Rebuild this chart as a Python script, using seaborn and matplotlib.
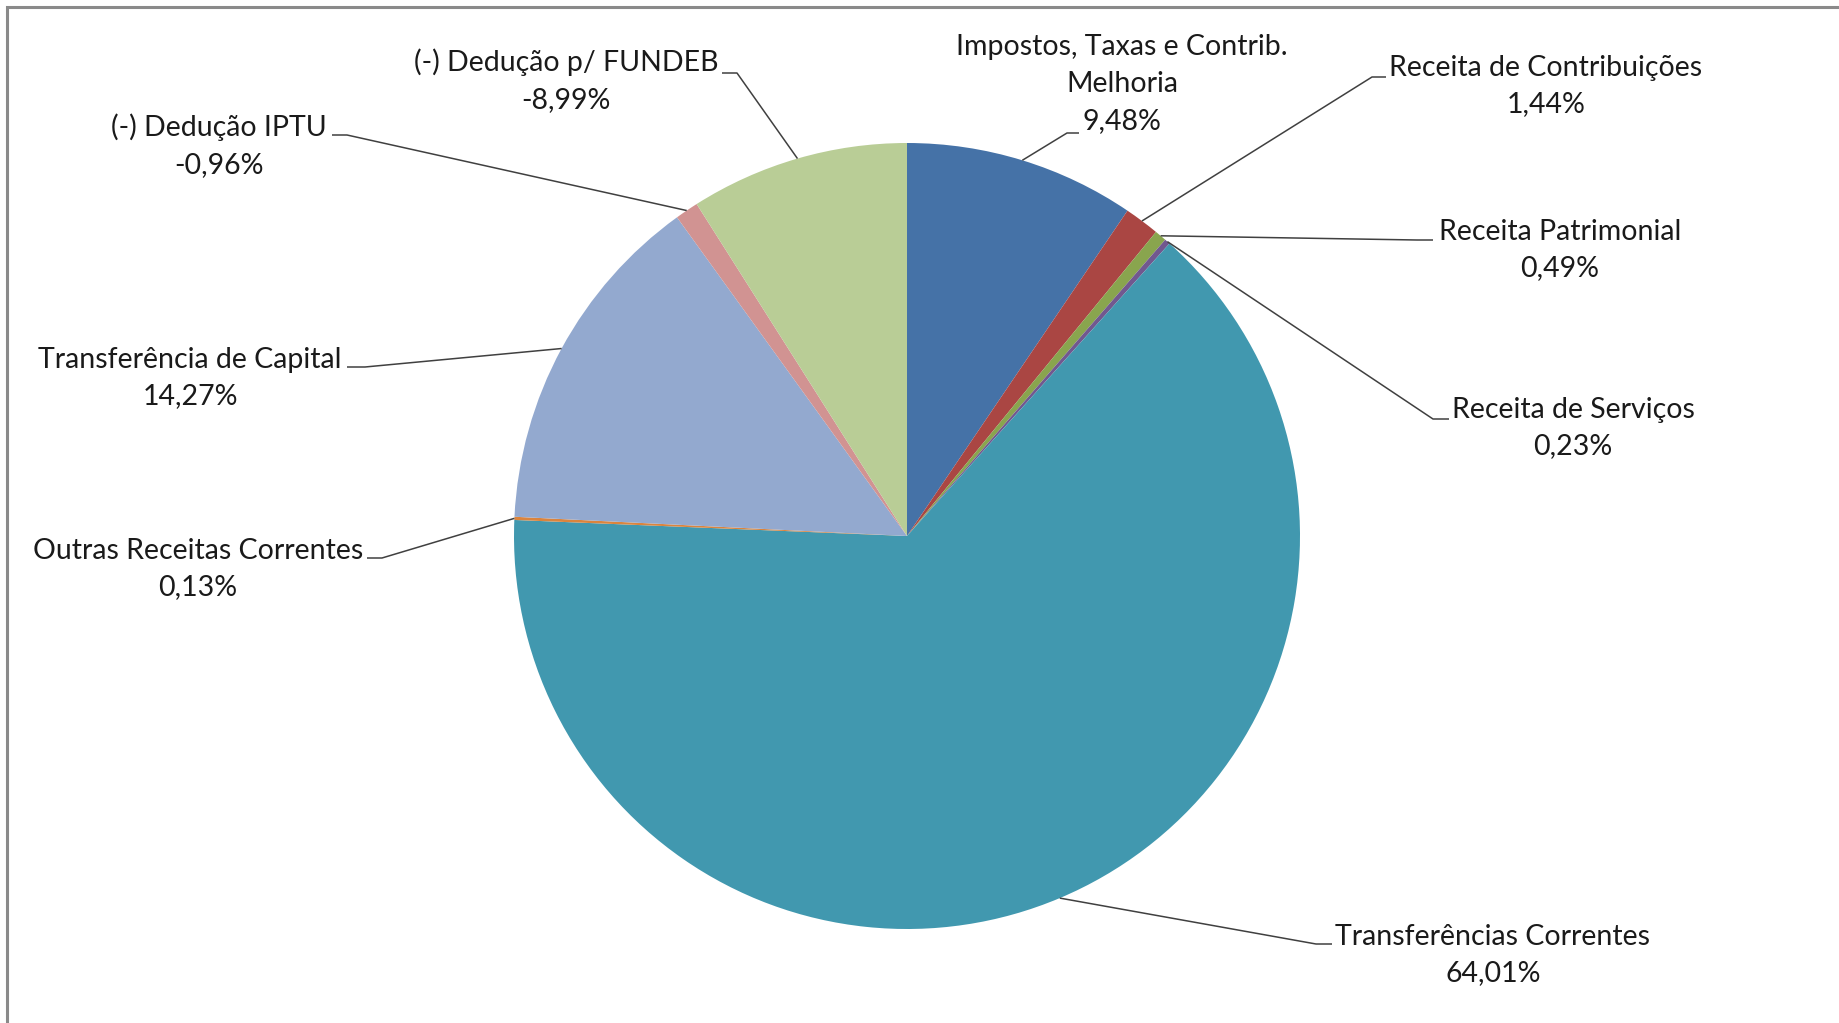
#!/usr/bin/env python3
"""Pie chart: composicao da receita (percentual por origem)."""

import numpy as np
import matplotlib
matplotlib.use("Agg")
import matplotlib.pyplot as plt
import seaborn as sns

# --- data ---
categories = [
    "Impostos, Taxas e Contrib.\nMelhoria",
    "Receita de Contribuições",
    "Receita Patrimonial",
    "Receita de Serviços",
    "Transferências Correntes",
    "Outras Receitas Correntes",
    "Transferência de Capital",
    "(-) Dedução IPTU",
    "(-) Dedução p/ FUNDEB",
]
values = [9.48, 1.44, 0.49, 0.23, 64.01, 0.13, 14.27, -0.96, -8.99]
slice_colors = ["#4572A7", "#AA4643", "#89A54E", "#71588F", "#4198AF",
                "#DB843D", "#93A9CF", "#D19392", "#B9CD96"]

# label layout in pixels from top-left: (text center x, text middle y,
# stub end near wedge x, stub end near text x, stub y)
label_layout = [
    (1122, 84, 1067, 1079, 133),
    (1546, 86, 1372, 1386, 77),
    (1560, 250, 1417, 1433, 240),
    (1573, 428, 1433, 1449, 419),
    (1493, 955, 1316, 1332, 944),
    (198, 569, 382, 367, 558),
    (190, 378, 365, 347, 367),
    (219, 146, 347, 332, 135),
    (566, 81, 737, 722, 73),
]

W, H = 1839, 1023
CX, CY, R = 907, 536, 393


def fmt_pct(v):
    return f"{v:.2f}".replace(".", ",") + "%"


def main():
    sns.set_theme(style="white")
    plt.rcParams["font.family"] = ["Lato", "DejaVu Sans"]
    text_color = "#1a1a1a"

    fig = plt.figure(figsize=(W / 100, H / 100), dpi=100)
    ax = fig.add_axes([0, 0, 1, 1])

    palette = sns.color_palette(slice_colors)
    wedges, _ = ax.pie(np.abs(values), colors=palette, startangle=90,
                       counterclock=False, center=(CX, H - CY), radius=R,
                       wedgeprops=dict(linewidth=0))

    ax.set_xlim(0, W)
    ax.set_ylim(0, H)
    ax.set_aspect("equal")
    ax.axis("off")

    for w, cat, v, lay in zip(wedges, categories, values, label_layout):
        tx, ty, sx0, sx1, sy = lay
        ang = np.deg2rad((w.theta1 + w.theta2) / 2)
        px = CX + R * np.cos(ang)
        py = (H - CY) + R * np.sin(ang)
        ax.plot([px, sx0, sx1], [py, H - sy, H - sy], color="#404040",
                lw=1.1, solid_capstyle="butt", clip_on=False)
        ax.text(tx, H - ty, f"{cat}\n{fmt_pct(v)}", ha="center", va="center",
                fontsize=20.5, color=text_color, linespacing=1.52)

    # chart frame (only top and left edges visible in the crop)
    ax.plot([7, 7, W], [0, H - 7, H - 7], color="#8a8a8a", lw=2.2,
            clip_on=False, solid_joinstyle="miter")

    fig.savefig("out.png", dpi=100, facecolor="white")
    plt.close(fig)


if __name__ == "__main__":
    main()
